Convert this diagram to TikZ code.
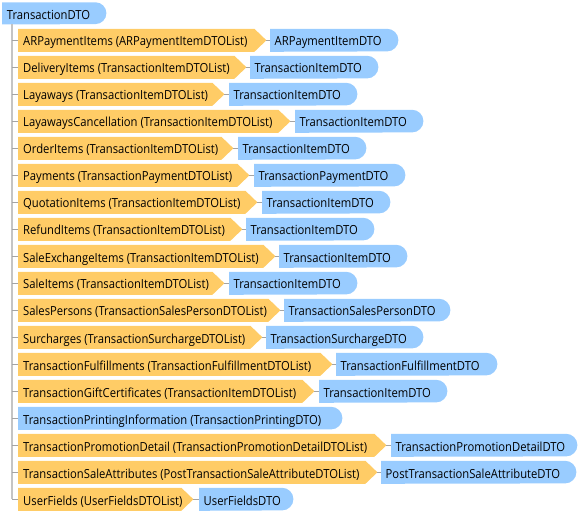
\documentclass[tikz,border=0pt]{standalone}
\usepackage{fontspec}
\setmainfont{Open Sans}[FakeStretch=0.9]
\definecolor{orangeC}{HTML}{FFCC66}
\definecolor{blueC}{HTML}{99CCFF}
\definecolor{trunkC}{HTML}{C4C4C4}
\definecolor{connC}{HTML}{A4A4A4}
\tikzset{
  boxn/.style={rectangle, inner sep=0pt, minimum height=22.6pt, anchor=west},
  txt/.style={anchor=west, inner sep=0pt, text height=11.4pt, text depth=0pt,
    font=\fontsize{12.5pt}{14pt}\selectfont, text=black},
  trunk/.style={draw=trunkC, line width=2pt},
  tick/.style={draw=connC, line width=1pt},
  conn/.style={draw=connC, line width=1pt},
}
\newcommand\dtorow[6]{%
  \pgfmathsetmacro\rowy{40.3+27*(#1-1)}
  \node[boxn, minimum width={(#3-18)*1pt}] (o#1) at (18,\rowy) {};
  \fill[orangeC] (o#1.north west) -- ([xshift=-12pt]o#1.north east) -- (o#1.east)
    -- ([xshift=-12pt]o#1.south east) -- (o#1.south west) -- cycle;
  \node[txt] (ot#1) at ([xshift=5pt]o#1.west) {#2};
  \node[boxn, minimum width={(#5-#4)*1pt}] (b#1) at (#4,\rowy) {};
  \fill[blueC] (b#1.north west) -- ([xshift=-11.3pt]b#1.north east)
    arc[start angle=90, end angle=-90, radius=11.3pt] -- (b#1.south west) -- cycle;
  \node[txt] (bt#1) at ([xshift=4.5pt]b#1.west) {#6};
  \draw[conn] (o#1.east) -- (b#1.west);
  \draw[tick] (o#1.west -| tr) -- (o#1.west);
}
\begin{document}
\begin{tikzpicture}[x=1pt, y=-1pt]
\useasboundingbox (0,0) rectangle (584,513);
% root
\node[boxn, minimum width=104pt, minimum height=21.8pt] (root) at (2,13.4) {};
\fill[blueC] (root.north west) -- ([xshift=-10.9pt]root.north east)
  arc[start angle=90, end angle=-90, radius=10.9pt] -- (root.south west) -- cycle;
\node[txt] (rt) at ([xshift=4.7pt]root.west) {TransactionDTO};
\coordinate (tr) at ([xshift=10pt]root.south west);
\node[boxn, minimum width=1pt] (o18) at (18,{40.3+27*17}) {};
\draw[trunk] (tr) -- (tr |- o18.west);
\dtorow{1}{ARPaymentItems (ARPaymentItemDTOList)}{266}{270}{398}{ARPaymentItemDTO}
\dtorow{2}{DeliveryItems (TransactionItemDTOList)}{246}{250}{378}{TransactionItemDTO}
\dtorow{3}{Layaways (TransactionItemDTOList)}{224}{229}{357}{TransactionItemDTO}
\dtorow{4}{LayawaysCancellation (TransactionItemDTOList)}{290}{295}{423}{TransactionItemDTO}
\dtorow{5}{OrderItems (TransactionItemDTOList)}{233}{238}{366}{TransactionItemDTO}
\dtorow{6}{Payments (TransactionPaymentDTOList)}{249}{254}{405}{TransactionPaymentDTO}
\dtorow{7}{QuotationItems (TransactionItemDTOList)}{257}{262}{390}{TransactionItemDTO}
\dtorow{8}{RefundItems (TransactionItemDTOList)}{242}{246}{374}{TransactionItemDTO}
\dtorow{9}{SaleExchangeItems (TransactionItemDTOList)}{275}{279}{407}{TransactionItemDTO}
\dtorow{10}{SaleItems (TransactionItemDTOList)}{224}{229}{357}{TransactionItemDTO}
\dtorow{11}{SalesPersons (TransactionSalesPersonDTOList)}{280}{284}{450}{TransactionSalesPersonDTO}
\dtorow{12}{Surcharges (TransactionSurchargeDTOList)}{262}{266}{423}{TransactionSurchargeDTO}
\dtorow{13}{TransactionFulfillments (TransactionFulfillmentDTOList)}{332}{336}{497}{TransactionFulfillmentDTO}
\dtorow{14}{TransactionGiftCertificates (TransactionItemDTOList)}{314}{319}{447}{TransactionItemDTO}
% row 15: blue only
\node[boxn, minimum width=324pt] (b15) at (18,{40.3+27*14}) {};
\fill[blueC] (b15.north west) -- ([xshift=-11.3pt]b15.north east)
  arc[start angle=90, end angle=-90, radius=11.3pt] -- (b15.south west) -- cycle;
\node[txt] (bt15) at ([xshift=5pt]b15.west) {TransactionPrintingInformation (TransactionPrintingDTO)};
\draw[tick] (b15.west -| tr) -- (b15.west);
\dtorow{16}{TransactionPromotionDetail (TransactionPromotionDetailDTOList)}{386}{391}{577}{TransactionPromotionDetailDTO}
\dtorow{17}{TransactionSaleAttributes (PostTransactionSaleAttributeDTOList)}{377}{381}{576}{PostTransactionSaleAttributeDTO}
\dtorow{18}{UserFields (UserFieldsDTOList)}{193}{199}{293}{UserFieldsDTO}
\end{tikzpicture}
\end{document}
